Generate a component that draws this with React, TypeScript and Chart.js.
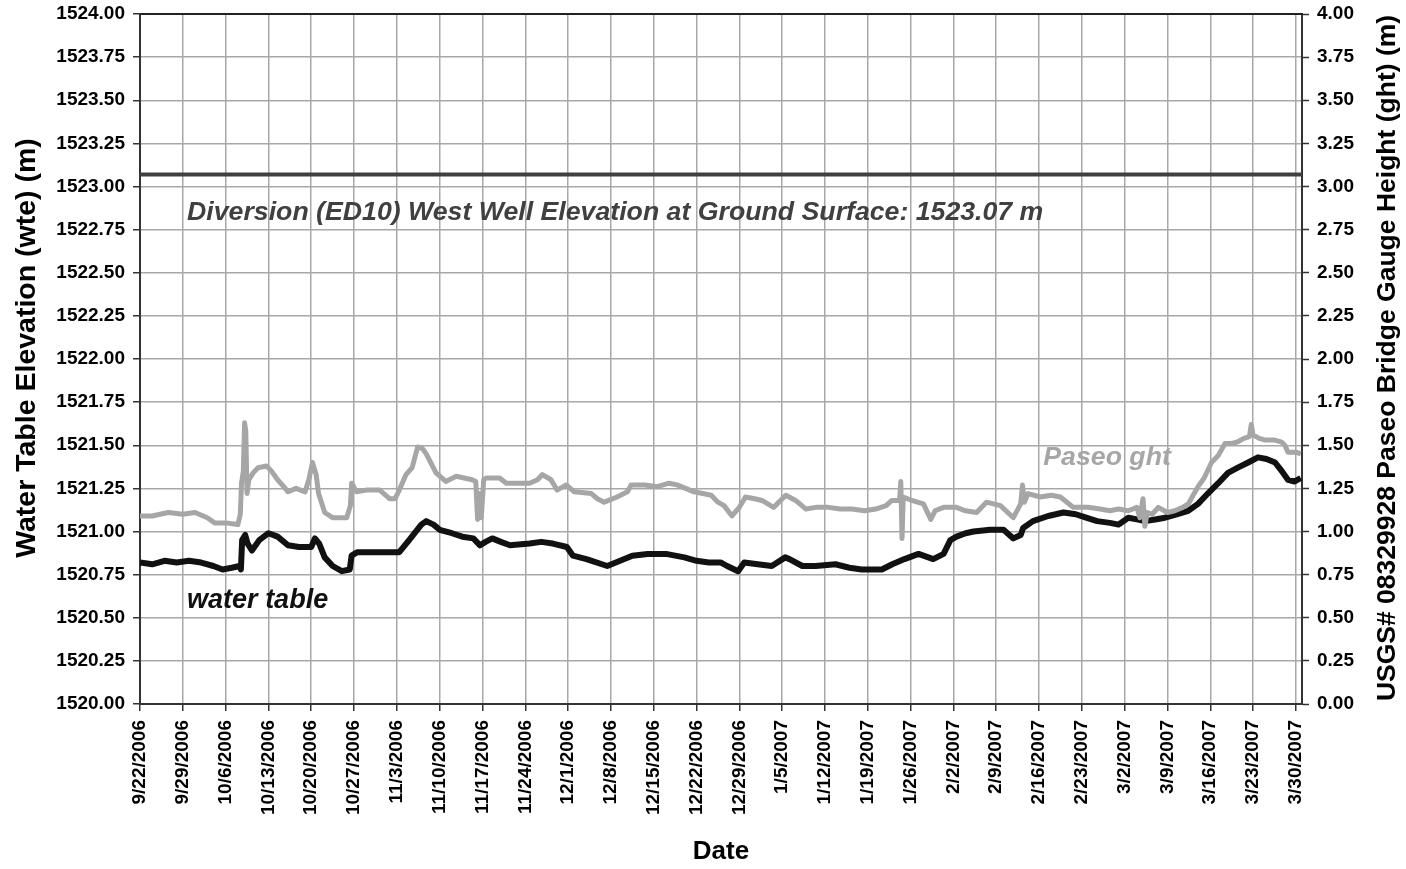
import React, { useEffect, useRef } from "react";
import { Chart, registerables } from "chart.js";

Chart.register(...registerables);

// Tick labels: one per week starting 9/22/2006 (day 0)
const tickLabels = [
  "9/22/2006", "9/29/2006", "10/6/2006", "10/13/2006", "10/20/2006", "10/27/2006",
  "11/3/2006", "11/10/2006", "11/17/2006", "11/24/2006", "12/1/2006", "12/8/2006",
  "12/15/2006", "12/22/2006", "12/29/2006", "1/5/2007", "1/12/2007", "1/19/2007",
  "1/26/2007", "2/2/2007", "2/9/2007", "2/16/2007", "2/23/2007", "3/2/2007",
  "3/9/2007", "3/16/2007", "3/23/2007", "3/30/2007",
];
const tickStepDays = 7;
const xMaxDays = 190;

// Water table elevation (m), days since 9/22/2006
const wtDays = [
  0, 2, 4, 6, 8, 10, 12, 13.5, 15, 16.3, 16.5, 16.7, 17.2, 17.6, 18.3, 19.5, 21, 22.5, 24.2, 26,
  28, 28.6, 29.3, 30.2, 31.5, 33, 34.3, 34.6, 35.5, 38, 40, 42.4, 44, 46, 46.8, 48, 49, 51, 52.7, 54.5,
  55.6, 56.5, 57.6, 59, 60.5, 63.7, 65.6, 67.5, 69.8, 70.8, 73, 76.4, 78.5, 80.5, 83, 86, 89, 91, 93, 95,
  96, 97.8, 98.8, 101, 103.3, 105.5, 106.2, 108.3, 110.5, 113.7, 116, 118, 121.3, 123, 125, 127.3, 129.7, 131.4, 132.5, 133.5,
  135, 136.3, 139, 141.2, 142.8, 144, 144.4, 146, 148.5, 151, 153, 154.7, 156.5, 158.6, 160, 161.6, 163, 164.3, 166, 167.6,
  169.5, 171.4, 173, 174.6, 176.3, 177.9, 179.5, 181.2, 182.8, 184.2, 185.6, 186.7, 187.7, 188.8, 189.8,
];
const wtValues = [
  1520.82, 1520.81, 1520.83, 1520.82, 1520.83, 1520.82, 1520.80, 1520.78, 1520.79, 1520.80, 1520.78, 1520.95, 1520.98, 1520.93, 1520.89, 1520.95, 1520.99, 1520.97, 1520.92, 1520.91,
  1520.91, 1520.96, 1520.93, 1520.85, 1520.80, 1520.77, 1520.78, 1520.86, 1520.88, 1520.88, 1520.88, 1520.88, 1520.95, 1521.04, 1521.06, 1521.04, 1521.01, 1520.99, 1520.97, 1520.96,
  1520.92, 1520.94, 1520.96, 1520.94, 1520.92, 1520.93, 1520.94, 1520.93, 1520.91, 1520.86, 1520.84, 1520.80, 1520.83, 1520.86, 1520.87, 1520.87, 1520.85, 1520.83, 1520.82, 1520.82,
  1520.80, 1520.77, 1520.82, 1520.81, 1520.80, 1520.85, 1520.84, 1520.80, 1520.80, 1520.81, 1520.79, 1520.78, 1520.78, 1520.81, 1520.84, 1520.87, 1520.84, 1520.87, 1520.95, 1520.97,
  1520.99, 1521.00, 1521.01, 1521.01, 1520.96, 1520.98, 1521.02, 1521.06, 1521.09, 1521.11, 1521.10, 1521.08, 1521.06, 1521.05, 1521.04, 1521.08, 1521.07, 1521.06, 1521.07, 1521.08,
  1521.10, 1521.12, 1521.16, 1521.22, 1521.28, 1521.34, 1521.37, 1521.40, 1521.43, 1521.42, 1521.40, 1521.35, 1521.30, 1521.29, 1521.31,
];

// Paseo Bridge gauge height (m), days since 9/22/2006
const ghtDays = [
  0, 2, 4.6, 7, 9, 11, 12.2, 14, 16, 16.4, 16.6, 16.9, 17.1, 17.3, 17.5, 17.8, 18.5, 19.3, 20.7, 21.5,
  22.5, 23.5, 24.2, 25.5, 27, 27.6, 28.2, 28.8, 29.2, 30.2, 31.5, 33.8, 34.4, 34.6, 35.4, 37, 39.2, 40.8, 41.7, 42.4,
  43.5, 44.5, 45.4, 46.2, 46.8, 48.4, 50, 51.7, 53, 54.3, 54.9, 55.2, 55.5, 55.8, 56.2, 56.6, 58.8, 59.9, 62, 63.7,
  65, 65.8, 67.2, 68.2, 69.7, 71, 73.8, 74.8, 75.9, 78, 79.7, 80.3, 82.5, 84.6, 86.5, 87.8, 90.6, 92, 93.4, 94.5,
  95.5, 96.8, 98, 99, 100.5, 101.7, 103.6, 105.6, 107.2, 108.9, 110.5, 112.6, 114.5, 116.4, 118.5, 120.3, 122, 122.9, 124.2, 124.4,
  124.6, 124.8, 126.2, 128.1, 129.3, 130, 131.4, 133.5, 135, 136.8, 138.4, 140.7, 142.8, 144, 144.3, 144.6, 145.2, 147.2, 149, 150.5,
  152.6, 155, 157, 158.6, 160, 161.6, 163, 163.5, 164, 164.3, 164.7, 165.5, 166.5, 168, 169.2, 170.5, 171.4, 172.2, 173, 174,
  175.2, 176.3, 177.4, 178.5, 179.5, 180.5, 181.4, 181.7, 182, 183, 184, 185.5, 186.6, 187.2, 187.7, 189, 189.8,
];
const ghtValues = [
  1.09, 1.09, 1.11, 1.10, 1.11, 1.08, 1.05, 1.05, 1.04, 1.10, 1.28, 1.35, 1.63, 1.58, 1.22, 1.30, 1.34, 1.37, 1.38, 1.35,
  1.30, 1.26, 1.23, 1.25, 1.23, 1.30, 1.40, 1.33, 1.22, 1.11, 1.08, 1.08, 1.15, 1.28, 1.23, 1.24, 1.24, 1.19, 1.19, 1.24,
  1.33, 1.37, 1.49, 1.48, 1.45, 1.34, 1.29, 1.32, 1.31, 1.30, 1.29, 1.07, 1.22, 1.08, 1.30, 1.31, 1.31, 1.28, 1.28, 1.28,
  1.30, 1.33, 1.30, 1.24, 1.27, 1.23, 1.22, 1.19, 1.17, 1.20, 1.23, 1.27, 1.27, 1.26, 1.28, 1.27, 1.23, 1.22, 1.21, 1.17,
  1.15, 1.09, 1.14, 1.20, 1.19, 1.18, 1.14, 1.21, 1.18, 1.13, 1.14, 1.14, 1.13, 1.13, 1.12, 1.13, 1.15, 1.18, 1.18, 1.29,
  0.96, 1.20, 1.18, 1.16, 1.07, 1.12, 1.14, 1.14, 1.12, 1.11, 1.17, 1.15, 1.08, 1.16, 1.27, 1.17, 1.22, 1.20, 1.21, 1.20,
  1.14, 1.14, 1.13, 1.12, 1.13, 1.12, 1.14, 1.08, 1.19, 1.03, 1.11, 1.10, 1.14, 1.11, 1.12, 1.14, 1.16, 1.21, 1.26, 1.31,
  1.40, 1.44, 1.51, 1.51, 1.52, 1.54, 1.55, 1.62, 1.56, 1.54, 1.53, 1.53, 1.52, 1.50, 1.46, 1.46, 1.45,
];

// Ground surface elevation of the well (m)
const groundSurface = 1523.07;

const FONT = "'Liberation Sans', Arial, Helvetica, sans-serif";

export default function App() {
  const ref = useRef<HTMLCanvasElement>(null);

  useEffect(() => {
    if (!ref.current) return;

    const overlay = {
      id: "overlay",
      afterDraw(chart: any) {
        const { ctx, chartArea, scales } = chart;
        const x = scales.x;
        const y = scales.y;
        ctx.save();
        // top border of plot
        ctx.strokeStyle = "#222";
        ctx.lineWidth = 2;
        ctx.beginPath();
        ctx.moveTo(chartArea.left, chartArea.top);
        ctx.lineTo(chartArea.right + 1, chartArea.top);
        ctx.stroke();

        // annotations
        ctx.textAlign = "left";
        ctx.textBaseline = "middle";
        ctx.font = `italic bold 26.7px ${FONT}`;
        ctx.fillStyle = "#404040";
        ctx.fillText(
          "Diversion (ED10) West Well Elevation at Ground Surface: 1523.07 m",
          x.getPixelForValue(7.7),
          y.getPixelForValue(1522.85)
        );
        ctx.fillStyle = "#111111";
        ctx.font = `italic bold 27px ${FONT}`;
        ctx.fillText("water table", x.getPixelForValue(7.7), y.getPixelForValue(1520.6));
        ctx.fillStyle = "#a6a6a6";
        ctx.font = `italic bold 26.7px ${FONT}`;
        ctx.fillText("Paseo ght", x.getPixelForValue(147.7), y.getPixelForValue(1521.43));

        // vertical axis titles (both read bottom-to-top)
        ctx.fillStyle = "#000";
        ctx.textAlign = "center";
        ctx.save();
        ctx.font = `bold 28.5px ${FONT}`;
        ctx.translate(27, 348);
        ctx.rotate(-Math.PI / 2);
        ctx.fillText("Water Table Elevation (wte) (m)", 0, 0);
        ctx.restore();
        ctx.save();
        ctx.font = `bold 26.5px ${FONT}`;
        ctx.translate(1388, 358);
        ctx.rotate(-Math.PI / 2);
        ctx.fillText("USGS# 08329928 Paseo Bridge Gauge Height (ght) (m)", 0, 0);
        ctx.restore();
        ctx.restore();
      },
    };

    const gridColor = "#a8a8a8";
    const axisColor = "#333333";

    const chart = new Chart(ref.current, {
      type: "line",
      data: {
        datasets: [
          {
            label: "Paseo ght",
            data: ghtDays.map((d, i) => ({ x: d, y: ghtValues[i] })),
            yAxisID: "y1",
            borderColor: "#a6a6a6",
            borderWidth: 5,
            borderJoinStyle: "round",
            pointRadius: 0,
            tension: 0,
          },
          {
            label: "water table",
            data: wtDays.map((d, i) => ({ x: d, y: wtValues[i] })),
            yAxisID: "y",
            borderColor: "#111111",
            borderWidth: 6,
            borderJoinStyle: "round",
            pointRadius: 0,
            tension: 0,
          },
          {
            label: "ground surface",
            data: [
              { x: 0, y: groundSurface },
              { x: xMaxDays, y: groundSurface },
            ],
            yAxisID: "y",
            borderColor: "#404040",
            borderWidth: 4,
            pointRadius: 0,
          },
        ],
      },
      options: {
        animation: false,
        responsive: false,
        layout: { padding: { top: 14, left: 0, right: 0, bottom: 0 } },
        plugins: { legend: { display: false }, tooltip: { enabled: false } },
        scales: {
          x: {
            type: "linear",
            min: 0,
            max: xMaxDays,
            afterFit: (s: any) => {
              s.height = 165;
            },
            afterBuildTicks: (s: any) => {
              s.ticks = tickLabels.map((_, i) => ({ value: i * tickStepDays }));
            },
            ticks: {
              autoSkip: false,
              minRotation: 90,
              maxRotation: 90,
              padding: 9,
              color: "#000",
              font: { family: FONT, size: 19, weight: "bold" },
              callback: (v: any) => tickLabels[Math.round(Number(v) / tickStepDays)] ?? "",
            },
            grid: { color: gridColor, lineWidth: 1.5, tickLength: 7, tickColor: axisColor, tickWidth: 1.5 },
            border: { color: axisColor, width: 2 },
            title: {
              display: true,
              text: "Date",
              color: "#000",
              font: { family: FONT, size: 26, weight: "bold" },
              padding: { top: 0, bottom: 2 },
            },
          },
          y: {
            type: "linear",
            position: "left",
            min: 1520,
            max: 1524,
            afterFit: (s: any) => {
              s.width = 140;
              s.paddingTop = 0;
              s.paddingBottom = 0;
            },
            ticks: {
              stepSize: 0.25,
              padding: 8,
              color: "#000",
              font: { family: FONT, size: 19, weight: "bold" },
              callback: (v: any) => Number(v).toFixed(2),
            },
            grid: { color: gridColor, lineWidth: 1.5, tickLength: 7, tickColor: axisColor, tickWidth: 1.5 },
            border: { color: axisColor, width: 2 },
          },
          y1: {
            type: "linear",
            position: "right",
            min: 0,
            max: 4,
            afterFit: (s: any) => {
              s.width = 104;
              s.paddingTop = 0;
              s.paddingBottom = 0;
            },
            ticks: {
              stepSize: 0.25,
              padding: 8,
              color: "#000",
              font: { family: FONT, size: 19, weight: "bold" },
              callback: (v: any) => Number(v).toFixed(2),
            },
            grid: { drawOnChartArea: false, tickLength: 7, tickColor: axisColor, tickWidth: 1.5 },
            border: { color: axisColor, width: 2 },
          },
        },
      },
      plugins: [overlay],
    } as any);

    return () => chart.destroy();
  }, []);

  return (
    <div style={{ position: "absolute", left: 0, top: 0, width: 1406, height: 869, background: "#fff" }}>
      <canvas ref={ref} width={1406} height={869} style={{ display: "block" }} />
    </div>
  );
}
